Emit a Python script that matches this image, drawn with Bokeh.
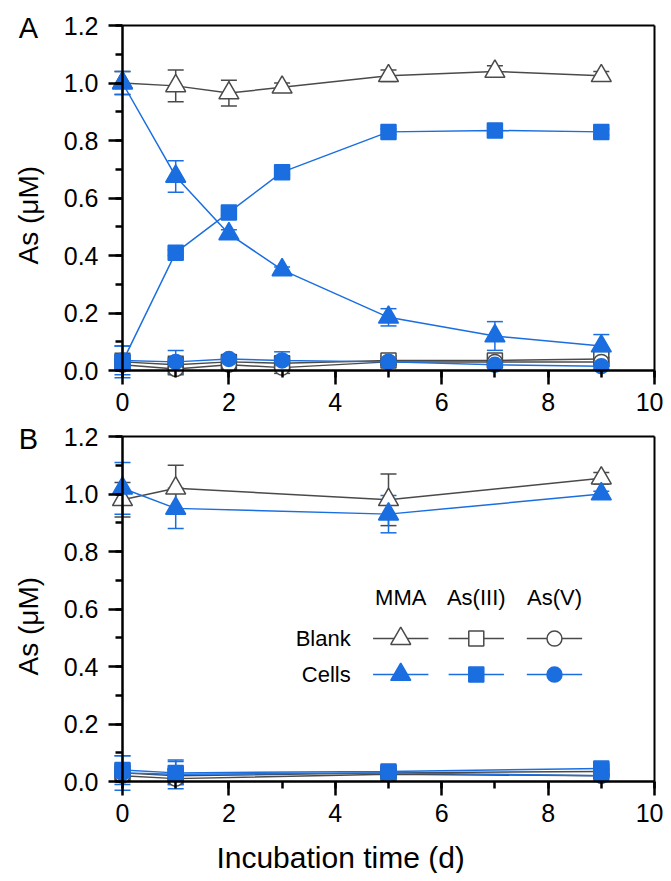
import math
from bokeh.plotting import figure
from bokeh.models import (ColumnDataSource, Whisker, TeeHead, Label, SingleIntervalTicker,
                          Range1d, PrintfTickFormatter)
from bokeh.layouts import column
from bokeh.embed import file_html
from bokeh.resources import INLINE

# ---------------- data ----------------
days_a = [0, 1, 2, 3, 5, 7, 9]
a_blank_mma = [1.00, 0.99, 0.965, 0.985, 1.025, 1.04, 1.025]
a_blank_mma_err = [0.04, 0.055, 0.045, 0.015, 0.02, 0.02, 0.015]
a_blank_as3 = [0.03, 0.02, 0.03, 0.025, 0.035, 0.035, 0.04]
a_blank_as3_err = [0.03, 0.03, 0.015, 0.015, 0.015, 0.02, 0.02]
a_blank_as5 = [0.02, 0.005, 0.02, 0.01, 0.03, 0.03, 0.03]
a_blank_as5_err = [0.02, 0.02, 0.02, 0.02, 0.01, 0.015, 0.015]
a_cells_mma = [1.00, 0.675, 0.475, 0.35, 0.185, 0.12, 0.085]
a_cells_mma_err = [0.04, 0.055, 0.015, 0.01, 0.03, 0.05, 0.04]
a_cells_as3 = [0.03, 0.41, 0.55, 0.69, 0.83, 0.835, 0.83]
a_cells_as3_err = [0.055, 0.01, 0.01, 0.01, 0.01, 0.01, 0.01]
a_cells_as5 = [0.035, 0.03, 0.04, 0.035, 0.03, 0.02, 0.015]
a_cells_as5_err = [0.05, 0.04, 0.01, 0.03, 0.01, 0.01, 0.01]

days_b = [0, 1, 5, 9]
b_blank_mma = [0.98, 1.02, 0.98, 1.055]
b_blank_mma_err = [0.06, 0.08, 0.09, 0.02]
b_blank_as3 = [0.03, 0.02, 0.03, 0.035]
b_blank_as3_err = [0.03, 0.02, 0.01, 0.01]
b_blank_as5 = [0.02, 0.01, 0.025, 0.02]
b_blank_as5_err = [0.02, 0.02, 0.01, 0.015]
b_cells_mma = [1.02, 0.95, 0.93, 1.00]
b_cells_mma_err = [0.09, 0.07, 0.065, 0.01]
b_cells_as3 = [0.04, 0.03, 0.035, 0.045]
b_cells_as3_err = [0.05, 0.04, 0.01, 0.02]
b_cells_as5 = [0.03, 0.025, 0.03, 0.02]
b_cells_as5_err = [0.06, 0.05, 0.01, 0.02]

species = ["MMA", "As(III)", "As(V)"]
groups = ["Blank", "Cells"]
x_ticks_max = 10
y_ticks_max = 1.2

# ---------------- style / layout ----------------
BLUE = "#1a6ee0"
GRAY = "#4a4a4a"
FONT = "Liberation Sans"
MARKERS = {"MMA": ("triangle", 20), "As(III)": ("square", 15), "As(V)": ("circle", 15)}

FIG_W = 663
X0_PX = 122.0          # pixel of x = 0 inside each figure
PX_PER_X = 53.2        # pixels per day
PX_PER_Y = 287.5       # pixels per µM


def add_series(p, x, y, err, group, sp):
    color = GRAY if group == "Blank" else BLUE
    fill = "white" if group == "Blank" else BLUE
    src = ColumnDataSource(dict(x=x, y=y,
                                upper=[a + b for a, b in zip(y, err)],
                                lower=[a - b for a, b in zip(y, err)]))
    marker, size = MARKERS[sp]
    p.line("x", "y", source=src, line_color=color, line_width=1.5)
    p.scatter("x", "y", source=src, marker=marker, size=size, fill_color=fill,
              line_color=color, line_width=1.5)
    return src, color


def add_errors(p, src, color):
    w = Whisker(base="x", upper="upper", lower="lower", source=src,
                line_color=color, line_width=1.5,
                upper_head=TeeHead(size=16, line_color=color, line_width=1.5),
                lower_head=TeeHead(size=16, line_color=color, line_width=1.5))
    p.add_layout(w)


def make_panel(height, top_px, letter, x, series):
    # top_px: pixel (inside figure) where y = 1.2 lies
    xs = -X0_PX / PX_PER_X
    xe = xs + FIG_W / PX_PER_X
    ye = y_ticks_max + top_px / PX_PER_Y
    ys = ye - height / PX_PER_Y
    p = figure(width=FIG_W, height=height,
               x_range=Range1d(xs, xe), y_range=Range1d(ys, ye),
               output_backend="svg", toolbar_location=None,
               min_border_left=0, min_border_right=0,
               min_border_top=0, min_border_bottom=0)
    p.outline_line_color = None
    p.grid.visible = False
    p.background_fill_color = "white"
    p.border_fill_color = "white"

    p.xaxis.fixed_location = 0
    p.yaxis.fixed_location = 0
    p.xaxis.bounds = (0, x_ticks_max + 1e-6)
    p.yaxis.bounds = (0, y_ticks_max + 1e-6)
    p.xaxis.ticker = SingleIntervalTicker(interval=2, num_minor_ticks=2)
    p.yaxis.ticker = SingleIntervalTicker(interval=0.2, num_minor_ticks=2)
    p.yaxis.formatter = PrintfTickFormatter(format="%.1f")
    for ax in (p.xaxis, p.yaxis):
        ax.axis_line_width = 2.5
        ax.axis_line_color = "black"
        ax.major_tick_line_width = 2.5
        ax.minor_tick_line_width = 2.5
        ax.major_tick_line_color = "black"
        ax.minor_tick_line_color = "black"
        ax.major_tick_out = 14
        ax.major_tick_in = 0
        ax.minor_tick_out = 7
        ax.minor_tick_in = 0
        ax.major_label_text_font = FONT
        ax.major_label_text_font_size = "25px"
        ax.major_label_text_color = "black"
    p.xaxis.major_label_standoff = 8
    p.yaxis.major_label_standoff = 10

    # frame top and right lines
    p.segment(x0=[0, x_ticks_max], y0=[y_ticks_max, 0], x1=[x_ticks_max, x_ticks_max],
              y1=[y_ticks_max, y_ticks_max], line_color="black", line_width=2)

    srcs = {}
    for group in groups:
        for sp in species:
            y, err = series[(group, sp)]
            srcs[(group, sp)] = add_series(p, x, y, err, group, sp)
    for group in groups:
        for sp in species:
            add_errors(p, *srcs[(group, sp)])

    p.add_layout(Label(x=-1.77, y=1.19, text=letter, text_font=FONT, text_font_size="29px",
                       text_color="black", text_align="center", text_baseline="middle"))
    p.add_layout(Label(x=-1.77, y=0.54, text="As (μM)", text_font=FONT, text_font_size="28px",
                       text_color="black", text_align="center", text_baseline="middle",
                       angle=math.pi / 2))
    return p


series_a = {
    ("Blank", "MMA"): (a_blank_mma, a_blank_mma_err),
    ("Blank", "As(III)"): (a_blank_as3, a_blank_as3_err),
    ("Blank", "As(V)"): (a_blank_as5, a_blank_as5_err),
    ("Cells", "MMA"): (a_cells_mma, a_cells_mma_err),
    ("Cells", "As(III)"): (a_cells_as3, a_cells_as3_err),
    ("Cells", "As(V)"): (a_cells_as5, a_cells_as5_err),
}
series_b = {
    ("Blank", "MMA"): (b_blank_mma, b_blank_mma_err),
    ("Blank", "As(III)"): (b_blank_as3, b_blank_as3_err),
    ("Blank", "As(V)"): (b_blank_as5, b_blank_as5_err),
    ("Cells", "MMA"): (b_cells_mma, b_cells_mma_err),
    ("Cells", "As(III)"): (b_cells_as3, b_cells_as3_err),
    ("Cells", "As(V)"): (b_cells_as5, b_cells_as5_err),
}

pA = make_panel(420, 25, "A", days_a, series_a)
pB = make_panel(453, 16, "B", days_b, series_b)

# x-axis title on lower panel
pB.add_layout(Label(x=4.1, y=-0.264, text="Incubation time (d)", text_font=FONT,
                    text_font_size="30px", text_color="black",
                    text_align="center", text_baseline="middle"))

# custom legend in panel B (grid: rows = groups, columns = species)
leg_cols = [5.23, 6.65, 8.12]
leg_head_y = 0.64
leg_rows_y = [0.497, 0.372]
leg_half = 0.52
for sp, cx in zip(species, leg_cols):
    pB.add_layout(Label(x=cx, y=leg_head_y, text=sp, text_font=FONT, text_font_size="22px",
                        text_color="black", text_align="center", text_baseline="middle"))
for group, ry in zip(groups, leg_rows_y):
    pB.add_layout(Label(x=4.29, y=ry, text=group, text_font=FONT, text_font_size="22px",
                        text_color="black", text_align="right", text_baseline="middle"))
    color = GRAY if group == "Blank" else BLUE
    fill = "white" if group == "Blank" else BLUE
    for sp, cx in zip(species, leg_cols):
        marker, size = MARKERS[sp]
        pB.line([cx - leg_half, cx + leg_half], [ry, ry], line_color=color, line_width=1.5)
        pB.scatter([cx], [ry], marker=marker, size=size, fill_color=fill,
                   line_color=color, line_width=1.5)

layout = column(pA, pB, spacing=0)
open("out.html", "w").write(file_html(layout, INLINE))
